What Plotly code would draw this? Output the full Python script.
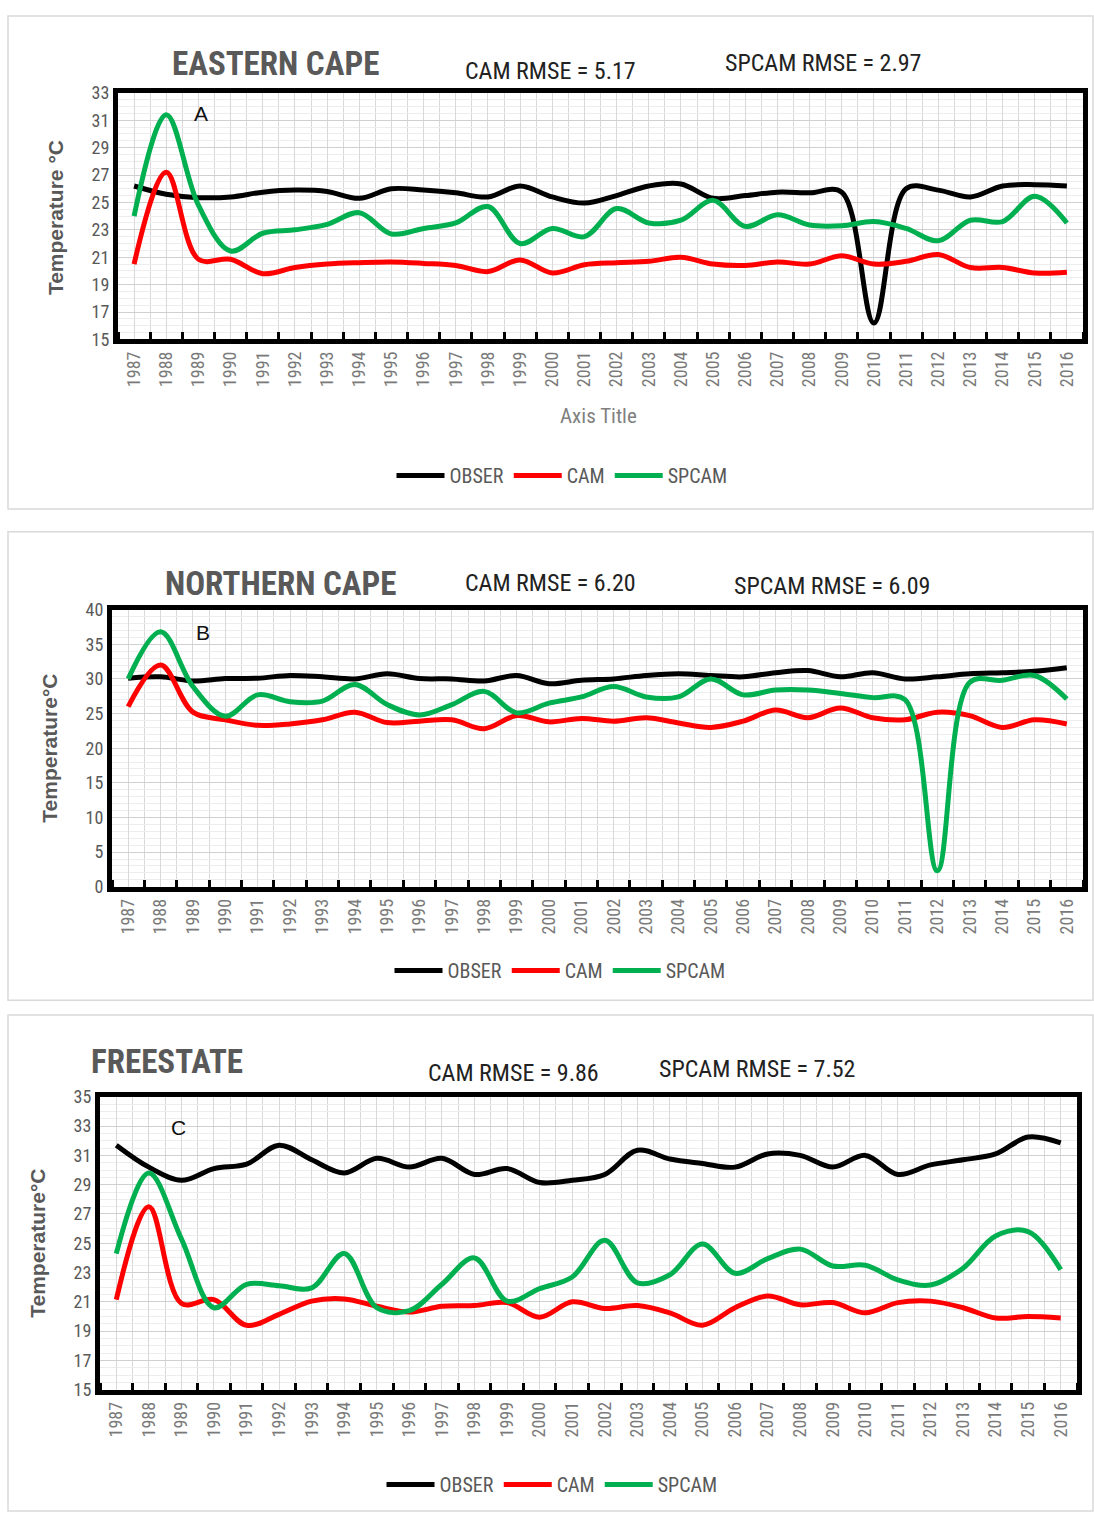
import plotly.graph_objects as go

years = list(range(1987, 2017))

obs_A = [26.2, 25.6, 25.35, 25.4, 25.75, 25.9, 25.8, 25.3, 26.0, 25.9, 25.7, 25.4, 26.2, 25.4,
         24.95, 25.5, 26.2, 26.35, 25.3, 25.5, 25.75, 25.7, 25.75, 16.2, 26.0, 25.9, 25.4, 26.2, 26.3, 26.2]
cam_A = [20.5, 27.2, 20.85, 20.85, 19.8, 20.25, 20.5, 20.6, 20.65, 20.55, 20.4, 19.95, 20.8, 19.85,
         20.45, 20.6, 20.7, 21.0, 20.5, 20.4, 20.65, 20.5, 21.1, 20.5, 20.7, 21.2, 20.25, 20.25, 19.85, 19.9]
spcam_A = [24.0, 31.4, 24.8, 21.45, 22.75, 23.0, 23.4, 24.25, 22.7, 23.1, 23.5, 24.7, 22.0, 23.1,
           22.5, 24.55, 23.5, 23.7, 25.15, 23.25, 24.1, 23.35, 23.3, 23.6, 23.1, 22.2, 23.7, 23.6, 25.45, 23.5]

obs_B = [30.1, 30.3, 29.7, 30.05, 30.1, 30.5, 30.3, 30.0, 30.75, 30.05, 30.0, 29.7, 30.5, 29.3,
         29.8, 30.0, 30.5, 30.75, 30.5, 30.3, 30.9, 31.2, 30.3, 30.9, 30.0, 30.3, 30.75, 30.9, 31.1, 31.6]
cam_B = [26.0, 32.0, 25.2, 24.1, 23.3, 23.5, 24.1, 25.2, 23.7, 23.9, 24.1, 22.8, 24.7, 23.8,
         24.3, 23.9, 24.4, 23.65, 23.0, 23.9, 25.5, 24.4, 25.8, 24.4, 24.1, 25.2, 24.7, 23.0, 24.1, 23.5]
spcam_B = [30.0, 36.8, 28.9, 24.6, 27.7, 26.7, 26.8, 29.2, 26.3, 24.8, 26.3, 28.2, 25.1, 26.5,
           27.4, 28.9, 27.4, 27.4, 30.0, 27.7, 28.4, 28.4, 27.9, 27.3, 27.0, 2.3, 29.5, 29.8, 30.5, 27.1]

obs_C = [31.7, 30.2, 29.3, 30.1, 30.4, 31.7, 30.7, 29.8, 30.8, 30.2, 30.8, 29.7, 30.1, 29.15,
         29.3, 29.7, 31.35, 30.75, 30.45, 30.2, 31.1, 31.0, 30.2, 31.0, 29.7, 30.35, 30.7, 31.1, 32.25, 31.85]
cam_C = [21.15, 27.5, 20.9, 21.15, 19.4, 20.15, 21.05, 21.2, 20.7, 20.3, 20.7, 20.75, 20.95, 19.95,
         21.0, 20.55, 20.75, 20.25, 19.4, 20.6, 21.4, 20.8, 20.95, 20.25, 20.95, 21.05, 20.6, 19.9, 20.0, 19.9]
spcam_C = [24.3, 29.8, 25.3, 20.6, 22.2, 22.1, 21.95, 24.3, 20.6, 20.4, 22.2, 24.0, 21.05, 21.9,
           22.7, 25.2, 22.3, 22.85, 24.95, 22.95, 23.95, 24.6, 23.45, 23.5, 22.5, 22.15, 23.3, 25.5, 25.8, 23.2]

series_names = ["OBSER", "CAM", "SPCAM"]
series_colors = ["#000000", "#ff0000", "#00b050"]

panel_titles = ["EASTERN CAPE", "NORTHERN CAPE", "FREESTATE"]
panel_letters = ["A", "B", "C"]
cam_rmse = ["CAM RMSE = 5.17", "CAM RMSE = 6.20", "CAM RMSE = 9.86"]
spcam_rmse = ["SPCAM RMSE = 2.97", "SPCAM RMSE = 6.09", "SPCAM RMSE = 7.52"]
y_titles = ["Temperature °C", "Temperature°C", "Temperature°C"]
y_ranges = [[15, 33], [0, 40], [15, 35]]
y_dticks = [2, 5, 2]
y_minor = [0.5, 1, 0.5]

data = [[obs_A, cam_A, spcam_A], [obs_B, cam_B, spcam_B], [obs_C, cam_C, spcam_C]]

W, H = 1094, 1523
def px(x):
    return x / W
def py(y):
    return 1 - y / H

# pixel layout per panel
plot_boxes = [(118, 1083, 83, 333), (112, 1083, 607, 888), (100, 1077, 1101, 1398)]
frames = [(8, 1093, 5, 505), (8, 1093, 528, 1003), (8, 1093, 1018, 1521)]
title_pos = [(275, 53), (280, 581), (167, 1065)]
cam_pos = [(550, 61), (550, 580), (513, 1077)]
spcam_pos = [(823, 53), (832, 583), (757, 1073)]
letter_pos = [(201, 104), (203, 630), (178, 1132)]
ytitle_pos = [(55, 210), (50, 748), (38, 1250)]
legend_pos = [(562, 471), (560, 973), (552, 1494)]

NARROW = "Liberation Sans Narrow, Arial Narrow, Roboto Condensed, Liberation Sans, sans-serif"
GRAY = "#595959"

fig = go.Figure()
layout = dict(
    width=W, height=H, margin=dict(l=0, r=0, t=0, b=0),
    paper_bgcolor="white", plot_bgcolor="white",
    showlegend=True, shapes=[], annotations=[],
    font=dict(family=NARROW, color=GRAY),
)

for i in range(3):
    sfx = "" if i == 0 else str(i + 1)
    xa, ya = "x" + sfx, "y" + sfx
    leg = "legend" + sfx
    x0, x1, y0, y1 = plot_boxes[i]
    for s in range(3):
        fig.add_trace(go.Scatter(
            x=years, y=data[i][s], name=series_names[s], mode="lines",
            line=dict(color=series_colors[s], width=5, shape="spline", smoothing=1.0),
            xaxis=xa, yaxis=ya, legend=leg, showlegend=True,
        ))
    layout["xaxis" + sfx] = dict(
        domain=[px(x0), px(x1)], anchor=ya, range=[1986.5, 2016.5],
        tickmode="linear", tick0=1987, dtick=1, tickangle=-90,
        tickfont=dict(size=18, color="#7a7a7a", family=NARROW),
        showgrid=True, gridcolor="#d9d9d9", gridwidth=1,
        ticks="", showline=True, linecolor="black", linewidth=5, mirror=True,
        zeroline=False,
        minor=dict(tick0=1986.5, dtick=1, ticks="inside", ticklen=7, tickwidth=3,
                   tickcolor="black", showgrid=True, gridcolor="#d9d9d9", gridwidth=1),
    )
    layout["yaxis" + sfx] = dict(
        domain=[py(y1), py(y0)], anchor=xa, range=y_ranges[i],
        tickmode="linear", tick0=y_ranges[i][0], dtick=y_dticks[i],
        tickfont=dict(size=18, color=GRAY, family=NARROW),
        showgrid=True, gridcolor="#d0d0d0", gridwidth=1,
        ticks="", showline=True, linecolor="black", linewidth=5, mirror=True,
        zeroline=False,
        minor=dict(dtick=y_minor[i], showgrid=True, gridcolor="#ededed", gridwidth=1),
    )
    lx, ly = legend_pos[i]
    layout[leg] = dict(
        x=px(lx), y=py(ly), xanchor="center", yanchor="middle", orientation="h",
        font=dict(size=20, color=GRAY, family=NARROW), bgcolor="rgba(0,0,0,0)",
        itemwidth=48, tracegroupgap=0,
    )
    fx0, fx1, fy0, fy1 = frames[i]
    layout["shapes"].append(dict(
        type="rect", xref="paper", yref="paper", x0=px(fx0), x1=px(fx1), y0=py(fy1), y1=py(fy0),
        line=dict(color="#d9d9d9", width=1.5), fillcolor="rgba(0,0,0,0)", layer="below",
    ))
    tx, ty = title_pos[i]
    layout["annotations"].append(dict(
        text="<b>" + panel_titles[i] + "</b>", x=px(tx), y=py(ty), xref="paper", yref="paper",
        showarrow=False, xanchor="center", yanchor="middle",
        font=dict(size=33, color=GRAY, family=NARROW),
    ))
    cx, cy = cam_pos[i]
    layout["annotations"].append(dict(
        text=cam_rmse[i], x=px(cx), y=py(cy), xref="paper", yref="paper",
        showarrow=False, xanchor="center", yanchor="middle",
        font=dict(size=24, color="#222222", family=NARROW),
    ))
    sx, sy = spcam_pos[i]
    layout["annotations"].append(dict(
        text=spcam_rmse[i], x=px(sx), y=py(sy), xref="paper", yref="paper",
        showarrow=False, xanchor="center", yanchor="middle",
        font=dict(size=24, color="#222222", family=NARROW),
    ))
    ax_, ay_ = letter_pos[i]
    layout["annotations"].append(dict(
        text=panel_letters[i], x=px(ax_), y=py(ay_), xref="paper", yref="paper",
        showarrow=False, xanchor="center", yanchor="middle",
        font=dict(size=21, color="#111111", family="Liberation Sans, Arial, sans-serif"),
    ))
    yx, yy = ytitle_pos[i]
    layout["annotations"].append(dict(
        text="<b>" + y_titles[i] + "</b>", x=px(yx), y=py(yy), xref="paper", yref="paper",
        showarrow=False, xanchor="center", yanchor="middle", textangle=-90,
        font=dict(size=21, color=GRAY, family="Liberation Sans, Arial, sans-serif"),
    ))

layout["annotations"].append(dict(
    text="Axis Title", x=px(598), y=py(411), xref="paper", yref="paper",
    showarrow=False, xanchor="center", yanchor="middle",
    font=dict(size=21, color="#7f7f7f", family=NARROW),
))

fig.update_layout(**layout)
fig.write_html("out.html")
